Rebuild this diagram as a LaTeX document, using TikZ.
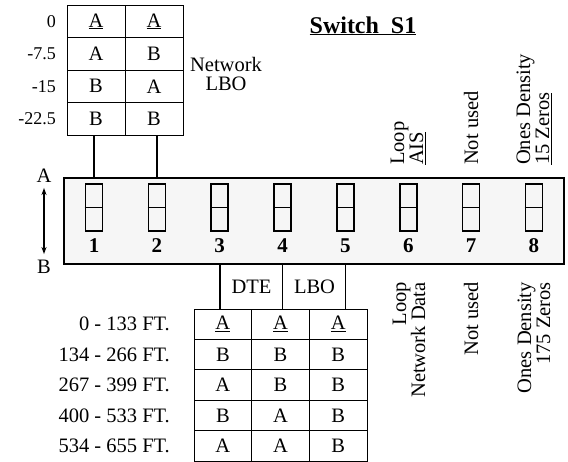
\documentclass[tikz,border=0pt]{standalone}
\usepackage{fontspec}
\setmainfont{Liberation Serif}
\usetikzlibrary{arrows.meta}
\begin{document}
\begin{tikzpicture}[x=1pt,y=-1pt,
  every node/.style={font=\fontsize{20.5}{19}\selectfont, inner sep=0pt},
  cell/.style={draw, line width=0.8pt, minimum width=58pt, minimum height=32.5pt},
  bcell/.style={draw, line width=0.8pt, minimum width=57.7pt, minimum height=30.4pt},
  swbox/.style={draw, line width=1.6pt, minimum width=17pt, minimum height=47pt},
  num/.style={font=\fontsize{21}{19}\selectfont\bfseries},
  conn/.style={line width=1.6pt},
  lab/.style={anchor=east},
  tlab/.style={anchor=east, font=\fontsize{18}{19}\selectfont},
  vup/.style={rotate=90, align=left, anchor=west},
  vdown/.style={rotate=90, align=right, anchor=east}
]
\useasboundingbox (0,0) rectangle (568,461);

% title
\node[font=\fontsize{24}{26}\selectfont\bfseries, anchor=base] (title) at (363,33) {\underline{Switch\ \ S1}};

% top table
\foreach \r/\y/\a/\b/\l in {1/21.25/\underline{A}/\underline{A}/0, 2/53.75/A/B/-7.5, 3/86.25/B/A/-15, 4/118.75/B/B/-22.5}{
  \node[cell] (t\r1) at (96,\y) {\a};
  \node[cell] (t\r2) at (154,\y) {\b};
  \node[tlab] (tl\r) at (56,\y) {\l};
}
\node[align=center] (netlbo) at (226,74) {Network\\LBO};

% main box
\node[draw, line width=1.6pt, fill=gray!7, minimum width=500pt, minimum height=86pt] (box) at (314,221) {};

\foreach \i [evaluate=\i as \x using 94+62.85*(\i-1)] in {1,...,8}{
  \node[swbox] (sw\i) at (\x,207.5) {};
  \draw[line width=1.6pt] (sw\i.west) -- (sw\i.east);
  \node[num] (n\i) at (\x,246) {\i};
}

% A/B arrow
\node (A) at (44,176) {A};
\node (B) at (44,267) {B};
\draw[{Stealth[length=7pt,width=5pt]}-{Stealth[length=7pt,width=5pt]}, line width=1.2pt] ([yshift=-5pt]A.south) -- ([yshift=6pt]B.north);

% connectors to top table
\draw[conn] (sw1 |- box.north) -- (sw1 |- t41.south);
\draw[conn] (sw2 |- box.north) -- (sw2 |- t42.south);

% bottom table
\foreach \r/\y/\a/\b/\c/\l in {1/324.2/\underline{A}/\underline{A}/\underline{A}/0 - 133 FT., 2/354.6/B/B/B/134 - 266 FT., 3/385/A/B/B/267 - 399 FT., 4/415.4/B/A/B/400 - 533 FT., 5/445.8/A/A/B/534 - 655 FT.}{
  \node[bcell] (b\r1) at (222.85,\y) {\a};
  \node[bcell] (b\r2) at (280.55,\y) {\b};
  \node[bcell] (b\r3) at (338.25,\y) {\c};
  \node[lab] (bl\r) at (170,\y) {\l};
}

% connectors to bottom table
\draw[conn] (sw3 |- box.south) -- (sw3 |- b11.north);
\draw[conn] (sw4 |- box.south) -- (sw4 |- b11.north);
\draw[conn] (sw5 |- box.south) -- (sw5 |- b11.north);
\node (dte) at (251.5,287) {DTE};
\node (lbo) at (314.5,287) {LBO};

% vertical labels above
\node[vup] (u6) at (408,165) {Loop\\\underline{AIS}};
\node[vup] (u7) at (471,165) {Not used};
\node[vup] (u8) at (534,165) {Ones Density\\\underline{15 Zeros}};

% vertical labels below
\node[vdown] (d6) at (409,282) {Loop\\Network Data};
\node[vdown] (d7) at (471,282) {Not used};
\node[vdown] (d8) at (534,282) {Ones Density\\175 Zeros};
\end{tikzpicture}
\end{document}
